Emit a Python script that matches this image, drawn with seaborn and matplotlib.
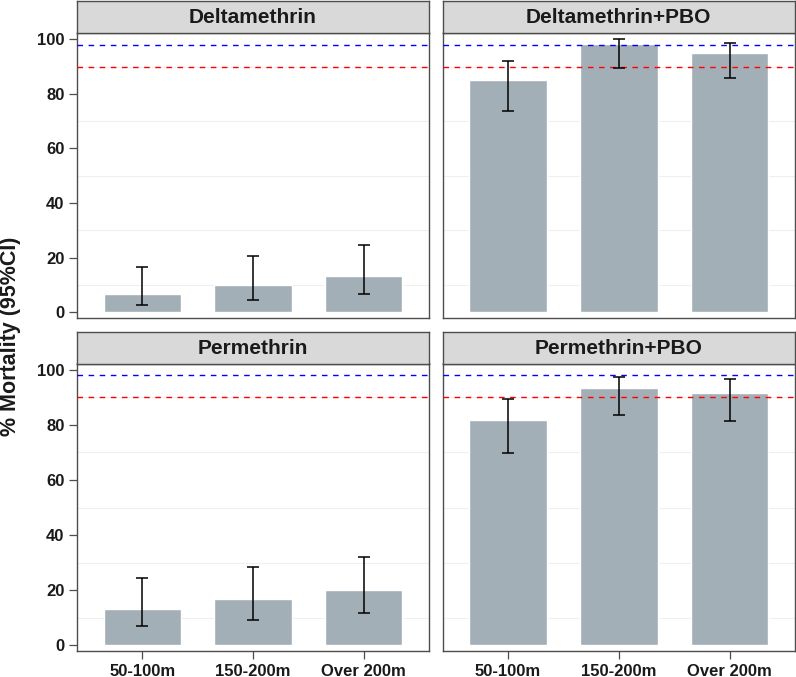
import numpy as np
import pandas as pd
import matplotlib
matplotlib.use("Agg")
import matplotlib.pyplot as plt
import seaborn as sns

sns.set_theme(style="white")
plt.rcParams['font.family'] = ['Liberation Sans', 'DejaVu Sans']
plt.rcParams['font.weight'] = 'bold'

distance = ["50-100m", "150-200m", "Over 200m"]
insecticides = ["Deltamethrin", "Deltamethrin+PBO", "Permethrin", "Permethrin+PBO"]

delta = [6.7, 10.0, 13.3]
delta_lo = [2.7, 4.6, 6.8]
delta_hi = [16.6, 20.7, 24.6]

delta_pbo = [85.0, 98.3, 95.0]
delta_pbo_lo = [73.8, 89.3, 85.8]
delta_pbo_hi = [92.2, 100.0, 98.6]

perm = [13.3, 16.7, 20.0]
perm_lo = [6.8, 9.2, 11.7]
perm_hi = [24.4, 28.3, 31.9]

perm_pbo = [81.7, 93.3, 91.7]
perm_pbo_lo = [69.7, 83.5, 81.5]
perm_pbo_hi = [89.5, 97.5, 96.5]

who_cutoff = 98
resist_cutoff = 90

rows = []
for name, m, lo, hi in zip(insecticides,
                           [delta, delta_pbo, perm, perm_pbo],
                           [delta_lo, delta_pbo_lo, perm_lo, perm_pbo_lo],
                           [delta_hi, delta_pbo_hi, perm_hi, perm_pbo_hi]):
    for d, v, l, h in zip(distance, m, lo, hi):
        rows.append({"insecticide": name, "distance": d, "mortality": v, "lo": l, "hi": h})
df = pd.DataFrame(rows)

W, H = 796, 677
fig = plt.figure(figsize=(W / 100, H / 100), dpi=100)

def frac(x0, y0, x1, y1):
    return [x0 / W, 1 - y1 / H, (x1 - x0) / W, (y1 - y0) / H]

cols = [(77, 429), (442.5, 795)]
axes_rows = [(33, 318), (363.5, 651)]
strip_rows = [(0.5, 33), (332, 363.5)]

bar_col = "#a3afb6"
edge = "#4d4d4d"

for i, name in enumerate(insecticides):
    r, c = divmod(i, 2)
    x0, x1 = cols[c]
    ax = fig.add_axes(frac(x0, axes_rows[r][0], x1, axes_rows[r][1]))
    sub = df[df.insecticide == name]
    for g in [10, 30, 50, 70, 90]:
        ax.axhline(g, color="#efefef", lw=0.8, zorder=0)
    sns.barplot(data=sub, x="distance", y="mortality", color=bar_col, saturation=1,
                width=0.7, errorbar=None, order=distance, ax=ax, zorder=2)
    pos = np.arange(len(distance))
    ax.errorbar(pos, sub.mortality, yerr=[sub.mortality - sub.lo, sub.hi - sub.mortality],
                fmt="none", ecolor="black", elinewidth=1.1, capsize=4.5, capthick=1.1, zorder=4)
    ax.axhline(who_cutoff, color="blue", lw=1.0, ls=(0, (4, 4)), zorder=3)
    ax.axhline(resist_cutoff, color="red", lw=1.0, ls=(0, (4, 4)), zorder=3)
    ax.set_xlim(-0.59, 2.59)
    ax.set_ylim(-2.1, 102.3)
    ax.set_xlabel("")
    ax.set_ylabel("")
    for s in ax.spines.values():
        s.set_color(edge)
        s.set_linewidth(1.0)
    ax.tick_params(axis="both", length=6, width=0.9, color=edge, pad=3,
                   labelsize=12, labelcolor="#1a1a1a")
    ax.set_yticks([0, 20, 40, 60, 80, 100])
    if c == 1:
        ax.tick_params(axis="y", left=False, labelleft=False)
    else:
        ax.tick_params(axis="y", left=True)
    if r == 0:
        ax.tick_params(axis="x", bottom=False, labelbottom=False)
    else:
        ax.tick_params(axis="x", bottom=True)
    for lab in ax.get_xticklabels() + ax.get_yticklabels():
        lab.set_fontweight("bold")

    sax = fig.add_axes(frac(x0, strip_rows[r][0], x1, strip_rows[r][1]))
    sax.set_facecolor("#d9d9d9")
    sax.set_xticks([])
    sax.set_yticks([])
    for s in sax.spines.values():
        s.set_color(edge)
        s.set_linewidth(1.0)
    sax.text(0.5, 0.48, name, ha="center", va="center", fontsize=15,
             fontweight="bold", color="#1a1a1a", transform=sax.transAxes)

fig.text(11 / W, 1 - 336 / H, "% Mortality (95%CI)", rotation=90, ha="center", va="center",
         fontsize=15.5, fontweight="bold", color="#1a1a1a")

fig.savefig("out.png", dpi=100)
